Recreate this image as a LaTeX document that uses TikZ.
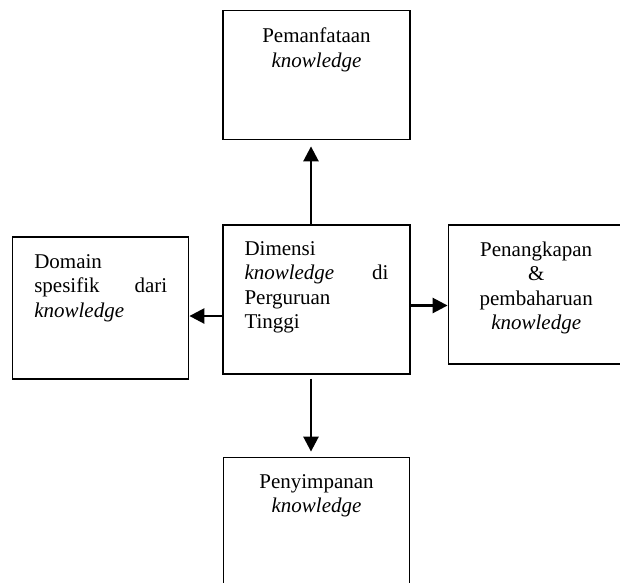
\documentclass[tikz,border=0pt]{standalone}
\usepackage{fontspec}
\setmainfont{Liberation Serif}
\usetikzlibrary{arrows.meta, positioning}
\tikzstyle{dimbox} = [rectangle, draw=black, line width=1.2pt, fill=white, inner ysep=0pt, font=\fontsize{21}{24.5}\selectfont]
\tikzstyle{dimboxC} = [dimbox, align=center]
\tikzstyle{dimboxJ} = [dimbox, align=left, inner xsep=21.5pt]
\tikzstyle{arrow} = [line width=2.6pt, -{Triangle[length=15pt,width=15pt]}]

\begin{document}
\begin{tikzpicture}[x=1pt, y=-1pt, node distance = 84pt and 35pt]
		\useasboundingbox (0,0) rectangle (620,582);
		\clip (0,0) rectangle (620,582);
		\node (dimensi) [dimboxJ, text width=144pt, text height=30pt, text depth=119pt] at (316.5,299.5) {Dimensi\\ \textit{knowledge}\hfill di\\ Perguruan\\ Tinggi};
		\node (pemanfaatan) [dimboxC, text width=150pt, inner xsep=18.5pt, text height=32pt, text depth=97pt, above=of dimensi] {Pemanfataan\\ \textit{knowledge}};
		\node (penyimpanan) [dimboxC, text width=150pt, inner xsep=18pt, text height=31pt, text depth=109pt, below=82pt of dimensi] {Penyimpanan\\ \textit{knowledge}};
		\node (domain) [dimboxJ, text width=133pt, text height=31pt, text depth=111pt, left=33pt of dimensi, yshift=-8.5pt] {Domain\\ spesifik\hfill dari\\ \textit{knowledge}};
		\node (penangkapan) [dimboxC, text width=140pt, inner xsep=18pt, text height=31pt, text depth=108pt, right=37pt of dimensi, yshift=5pt] {Penangkapan\\ \&\\ pembaharuan\\ \textit{knowledge}};
		\draw [arrow, shorten >=6pt] ([xshift=-5.5pt]dimensi.north) -- ([xshift=-5.5pt]dimensi.north |- pemanfaatan.south);
		\draw [arrow, shorten <=4pt, shorten >=5pt] ([xshift=-5.5pt]dimensi.south) -- ([xshift=-5.5pt]dimensi.south |- penyimpanan.north);
		\draw [arrow] ([yshift=-16.5pt]dimensi.west) -- ([yshift=-16.5pt]dimensi.west -| domain.east);
		\draw [arrow] ([yshift=-6pt]dimensi.east) -- ([yshift=-6pt]dimensi.east -| penangkapan.west);
	\end{tikzpicture}
\end{document}
